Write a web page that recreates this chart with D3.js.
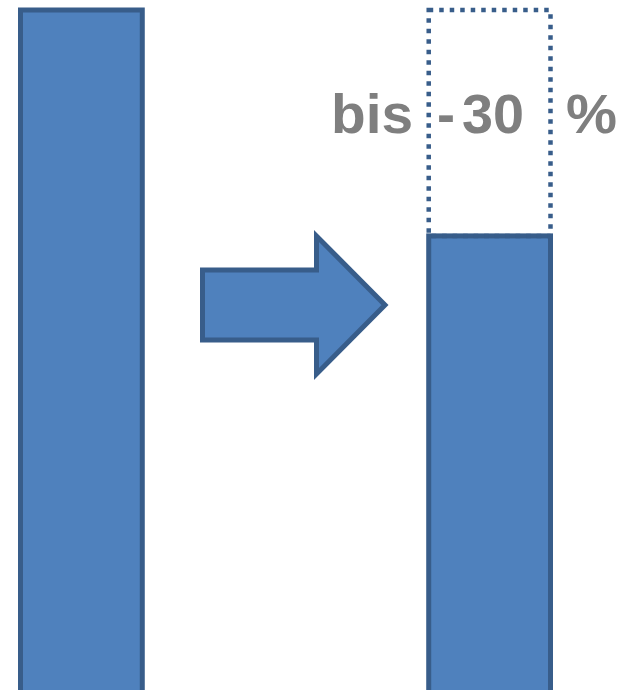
<!DOCTYPE html>
<html>
<head>
<meta charset="utf-8">
<script src="https://cdn.jsdelivr.net/npm/d3@7"></script>
<style>
  html, body { margin: 0; padding: 0; background: #fff; overflow: hidden; }
</style>
</head>
<body>
<svg id="drawing_region"></svg>
<script>
// data
const categories = ["vorher", "nachher"];
const values = [100, 70];
const reduction = [30];
const labelParts = ["bis", "-", "30", "%"];

const width = 625, height = 690;
const fill = "#4f81bd", edge = "#385d8a";

const svg = d3.select("#drawing_region")
    .attr("width", width)
    .attr("height", height);

const xscale = d3.scaleBand()
    .domain(categories)
    .range([20.5, 550.5])
    .paddingInner(0.7017);

// baseline lies below the visible area (the picture is cropped)
const yscale = d3.scaleLinear()
    .domain([0, 100])
    .range([763, 10]);

// bars
svg.selectAll("rect.bar")
    .data(values)
    .enter()
    .append("rect")
    .attr("class", "bar")
    .attr("x", (d, i) => xscale(categories[i]))
    .attr("y", d => yscale(d))
    .attr("width", xscale.bandwidth())
    .attr("height", d => yscale(0) - yscale(d))
    .attr("fill", fill)
    .attr("stroke", edge)
    .attr("stroke-width", 5);

// dotted outline for the removed part
svg.selectAll("rect.gap")
    .data(reduction)
    .enter()
    .append("rect")
    .attr("class", "gap")
    .attr("x", xscale(categories[1]))
    .attr("y", yscale(values[1] + reduction[0]))
    .attr("width", xscale.bandwidth())
    .attr("height", d => yscale(values[1]) - yscale(values[1] + d))
    .attr("fill", "none")
    .attr("stroke", edge)
    .attr("stroke-width", 4.5)
    .attr("stroke-dasharray", "4.5,6");

// arrow between the bars
const ax0 = 202.5, ax1 = 385, ahx = 316.5, acy = 305;
const arrow = [
    [ax0, acy - 35], [ahx, acy - 35], [ahx, acy - 69],
    [ax1, acy],
    [ahx, acy + 69], [ahx, acy + 35], [ax0, acy + 35]
];
svg.append("path")
    .attr("d", d3.line()(arrow) + "Z")
    .attr("fill", fill)
    .attr("stroke", edge)
    .attr("stroke-width", 5)
    .attr("stroke-linejoin", "miter");

// label
const partX = [331, 437, 462, 566];
const partW = [82, 18, 62, 51];
svg.append("g")
    .selectAll("text")
    .data(labelParts)
    .enter()
    .append("text")
    .attr("x", (d, i) => partX[i])
    .attr("y", 133)
    .attr("textLength", (d, i) => partW[i])
    .attr("lengthAdjust", "spacingAndGlyphs")
    .style("font-family", "'Liberation Sans', Arial, sans-serif")
    .style("font-weight", "bold")
    .style("font-size", "55px")
    .attr("fill", "#7f7f7f")
    .text(d => d);
</script>
</body>
</html>
